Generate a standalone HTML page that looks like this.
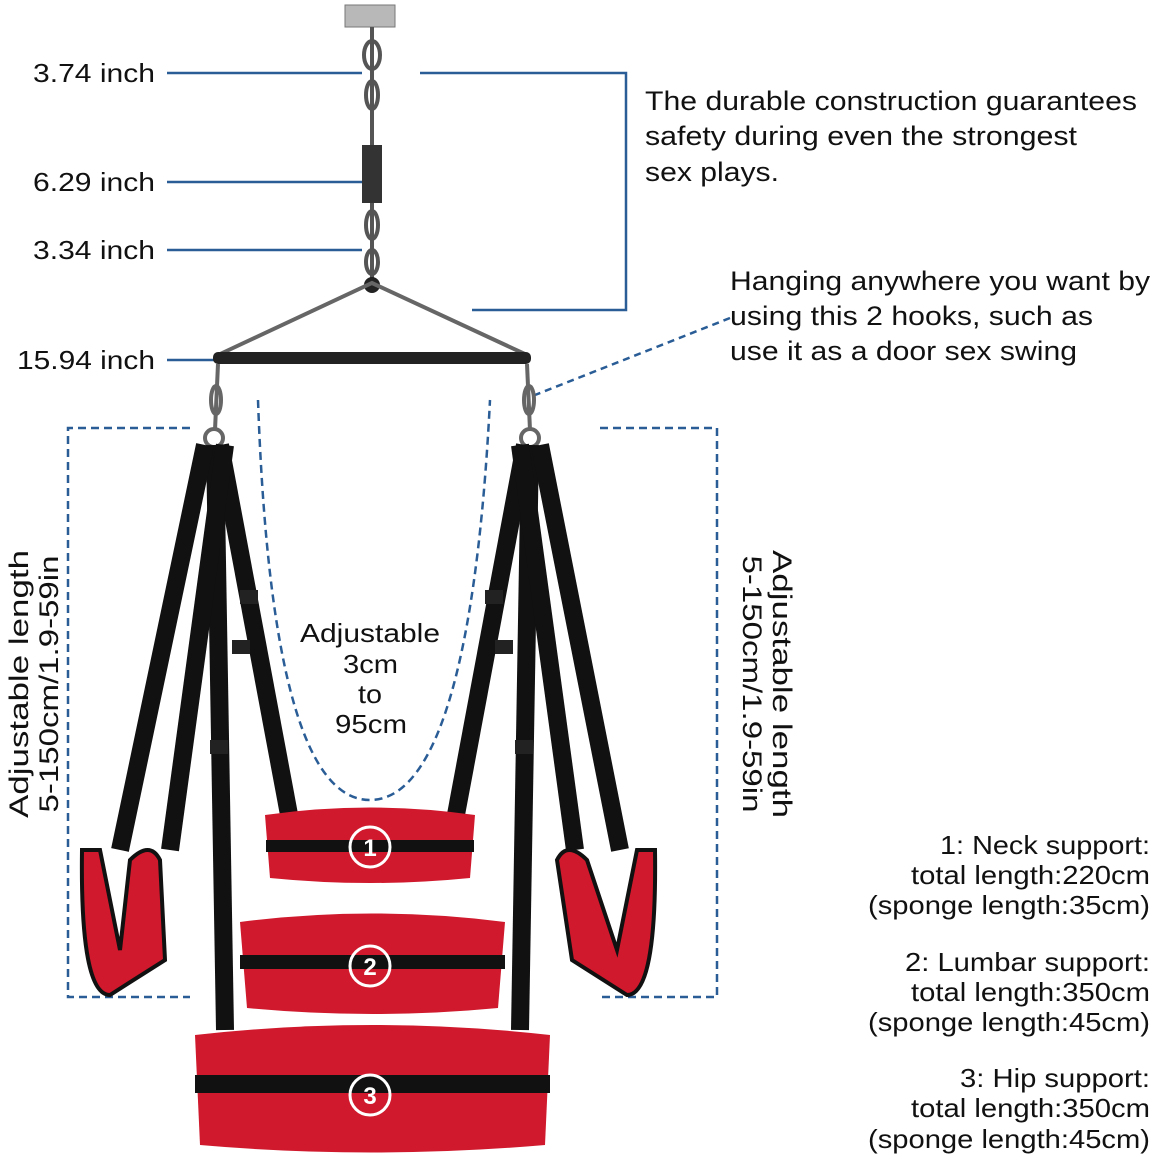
<!DOCTYPE html>
<html><head><meta charset="utf-8"><style>
body{margin:0;background:#fff;}
svg{display:block;}
text{font-family:"Liberation Sans",sans-serif;fill:#111;}
</style></head><body>
<svg width="1153" height="1161" viewBox="0 0 1153 1161" xmlns="http://www.w3.org/2000/svg">
<rect width="1153" height="1161" fill="#fff"/>
<g font-size="26" lengthAdjust="spacingAndGlyphs">
<text x="33" y="82" textLength="122" lengthAdjust="spacingAndGlyphs">3.74 inch</text>
<text x="33" y="191" textLength="122" lengthAdjust="spacingAndGlyphs">6.29 inch</text>
<text x="33" y="259" textLength="122" lengthAdjust="spacingAndGlyphs">3.34 inch</text>
<text x="17" y="369" textLength="138" lengthAdjust="spacingAndGlyphs">15.94 inch</text>
</g>
<g stroke="#2a5d96" stroke-width="2.5" fill="none">
<line x1="167" y1="73" x2="362" y2="73"/>
<line x1="167" y1="182" x2="362" y2="182"/>
<line x1="167" y1="250" x2="362" y2="250"/>
<line x1="167" y1="360" x2="216" y2="360"/>
<polyline points="420,73 626,73 626,310 472,310"/>
</g>
<g font-size="27">
<text x="645" y="110" textLength="492" lengthAdjust="spacingAndGlyphs">The durable construction guarantees</text>
<text x="645" y="145" textLength="432" lengthAdjust="spacingAndGlyphs">safety during even the strongest</text>
<text x="645" y="181" textLength="134" lengthAdjust="spacingAndGlyphs">sex plays.</text>
<text x="730" y="290" textLength="420" lengthAdjust="spacingAndGlyphs">Hanging anywhere you want by</text>
<text x="730" y="325" textLength="363" lengthAdjust="spacingAndGlyphs">using this 2 hooks, such as</text>
<text x="730" y="360" textLength="347" lengthAdjust="spacingAndGlyphs">use it as a door sex swing</text>
</g>
<line x1="730" y1="318" x2="535" y2="395" stroke="#2a5d96" stroke-width="2.5" stroke-dasharray="7,5"/>
<rect x="345" y="5" width="50" height="22" fill="#b8b8b8" stroke="#777"/>
<g stroke="#555" stroke-width="4" fill="none">
<line x1="372" y1="27" x2="372" y2="280"/>
<ellipse cx="372" cy="55" rx="8" ry="14"/>
<ellipse cx="372" cy="95" rx="6" ry="14"/>
<ellipse cx="372" cy="225" rx="6" ry="14"/>
<ellipse cx="372" cy="262" rx="6" ry="12"/>
</g>
<rect x="362" y="145" width="20" height="58" fill="#333"/>
<circle cx="372" cy="285" r="8" fill="#222"/>
<polyline points="218,355 372,283 527,355" fill="none" stroke="#666" stroke-width="4"/>
<rect x="213" y="352" width="318" height="12" rx="5" fill="#222"/>
<g stroke="#666" stroke-width="4" fill="none">
<line x1="218" y1="364" x2="215" y2="430"/><ellipse cx="216" cy="400" rx="5" ry="14"/>
<line x1="527" y1="364" x2="530" y2="430"/><ellipse cx="529" cy="400" rx="5" ry="14"/>
<circle cx="214" cy="438" r="9"/><circle cx="530" cy="438" r="9"/>
</g>
<g stroke="#2a5d96" stroke-width="2.5" fill="none" stroke-dasharray="8,5">
<polyline points="190,428 68,428 68,997 190,997"/>
<polyline points="600,428 717,428 717,997 600,997"/>
<path d="M258,400 C265,600 290,800 370,800 C450,800 480,600 490,400"/>
</g>
<g font-size="27">
<text transform="translate(28,684) rotate(-90)" text-anchor="middle" textLength="268" lengthAdjust="spacingAndGlyphs">Adjustable length</text>
<text transform="translate(58,684) rotate(-90)" text-anchor="middle" textLength="257" lengthAdjust="spacingAndGlyphs">5-150cm/1.9-59in</text>
<text transform="translate(743,684) rotate(90)" text-anchor="middle" textLength="257" lengthAdjust="spacingAndGlyphs">5-150cm/1.9-59in</text>
<text transform="translate(773,684) rotate(90)" text-anchor="middle" textLength="268" lengthAdjust="spacingAndGlyphs">Adjustable length</text>
</g>
<g font-size="26">
<text x="300" y="642" textLength="140" lengthAdjust="spacingAndGlyphs">Adjustable</text>
<text x="343" y="673" textLength="55" lengthAdjust="spacingAndGlyphs">3cm</text>
<text x="358" y="703" textLength="24" lengthAdjust="spacingAndGlyphs">to</text>
<text x="335" y="733" textLength="72" lengthAdjust="spacingAndGlyphs">95cm</text>
</g>
<g stroke="#111" stroke-width="18" fill="none">
<line x1="215" y1="445" x2="225" y2="1030"/>
<line x1="220" y1="445" x2="290" y2="820"/>
<line x1="205" y1="445" x2="120" y2="850"/>
<line x1="225" y1="445" x2="170" y2="850"/>
<line x1="530" y1="445" x2="520" y2="1030"/>
<line x1="525" y1="445" x2="455" y2="820"/>
<line x1="540" y1="445" x2="620" y2="850"/>
<line x1="520" y1="445" x2="575" y2="850"/>
</g>
<g fill="#222"><rect x="240" y="590" width="18" height="14"/><rect x="232" y="640" width="18" height="14"/><rect x="485" y="590" width="18" height="14"/><rect x="495" y="640" width="18" height="14"/><rect x="210" y="740" width="18" height="14"/><rect x="515" y="740" width="18" height="14"/></g>
<path d="M82,850 Q80,995 110,995 L165,960 L160,860 Q150,840 130,860 L120,950 L100,850 Z" fill="#d0192c" stroke="#111" stroke-width="4"/>
<path d="M655,850 Q657,995 627,995 L572,960 L557,860 Q567,840 587,860 L617,950 L637,850 Z" fill="#d0192c" stroke="#111" stroke-width="4"/>
<path d="M265,815 Q370,800 475,815 L470,878 Q370,888 270,878 Z" fill="#d0192c"/>
<rect x="266" y="840" width="208" height="12" fill="#111"/>
<path d="M240,922 Q372,905 505,922 L498,1008 Q372,1020 247,1008 Z" fill="#d0192c"/>
<rect x="240" y="955" width="265" height="14" fill="#111"/>
<path d="M195,1035 Q372,1015 550,1035 L545,1145 Q372,1160 200,1145 Z" fill="#d0192c"/>
<rect x="195" y="1075" width="355" height="18" fill="#111"/>
<g stroke="#fff" stroke-width="3" fill="none"><circle cx="370" cy="847" r="20"/><circle cx="370" cy="966" r="20"/><circle cx="370" cy="1095" r="20"/></g>
<g font-size="24" font-weight="bold" text-anchor="middle">
<text x="370" y="856" style="fill:#fff">1</text><text x="370" y="975" style="fill:#fff">2</text><text x="370" y="1104" style="fill:#fff">3</text>
</g>
<g font-size="26" text-anchor="end">
<text x="1150" y="854" textLength="210" lengthAdjust="spacingAndGlyphs">1: Neck support:</text>
<text x="1150" y="884" textLength="239" lengthAdjust="spacingAndGlyphs">total length:220cm</text>
<text x="1150" y="914" textLength="282" lengthAdjust="spacingAndGlyphs">(sponge length:35cm)</text>
<text x="1150" y="971" textLength="245" lengthAdjust="spacingAndGlyphs">2: Lumbar support:</text>
<text x="1150" y="1001" textLength="239" lengthAdjust="spacingAndGlyphs">total length:350cm</text>
<text x="1150" y="1031" textLength="282" lengthAdjust="spacingAndGlyphs">(sponge length:45cm)</text>
<text x="1150" y="1087" textLength="190" lengthAdjust="spacingAndGlyphs">3: Hip support:</text>
<text x="1150" y="1117" textLength="239" lengthAdjust="spacingAndGlyphs">total length:350cm</text>
<text x="1150" y="1148" textLength="282" lengthAdjust="spacingAndGlyphs">(sponge length:45cm)</text>
</g>
</svg>
</body></html>
